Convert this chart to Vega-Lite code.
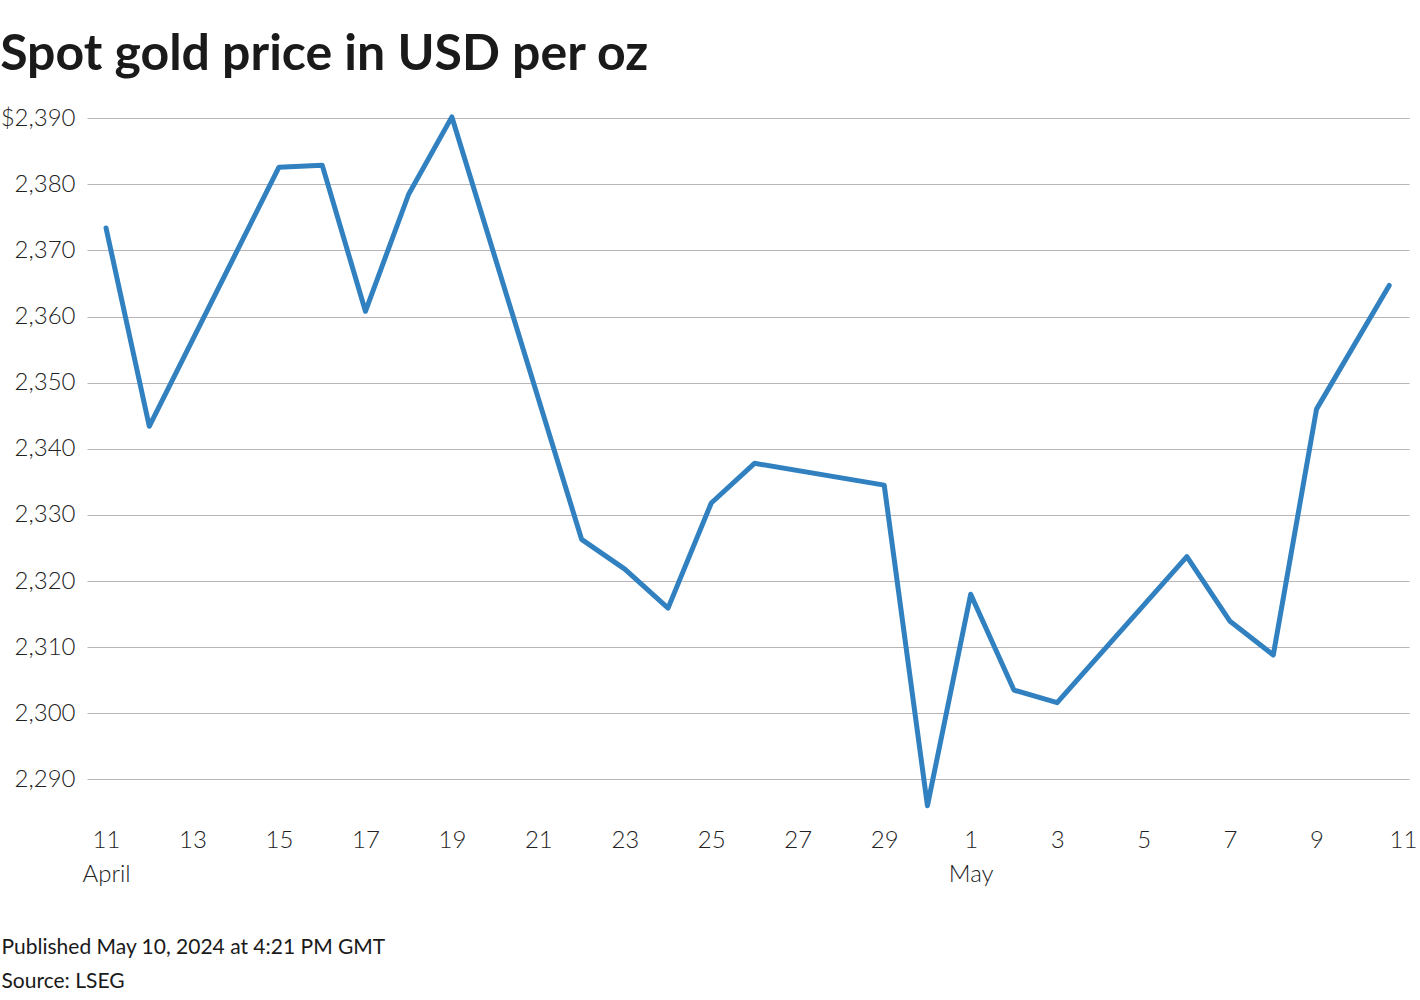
{
  "$schema": "https://vega.github.io/schema/vega-lite/v6.json",
  "width": 1322,
  "height": 714,
  "padding": {"left": 0, "top": 30, "right": 6, "bottom": 5},
  "background": "white",
  "title": {
    "text": "Spot gold price in USD per oz",
    "anchor": "start",
    "frame": "bounds",
    "font": "Lato",
    "fontSize": 50,
    "fontWeight": "bold",
    "color": "#1a1a1a",
    "offset": 25
  },
  "data": {
    "values": [
      {"date": "2024-04-11T00:00:00Z", "price": 2373.4},
      {"date": "2024-04-12T00:00:00Z", "price": 2343.4},
      {"date": "2024-04-15T00:00:00Z", "price": 2382.6},
      {"date": "2024-04-16T00:00:00Z", "price": 2382.9},
      {"date": "2024-04-17T00:00:00Z", "price": 2360.8},
      {"date": "2024-04-18T00:00:00Z", "price": 2378.5},
      {"date": "2024-04-19T00:00:00Z", "price": 2390.2},
      {"date": "2024-04-22T00:00:00Z", "price": 2326.3},
      {"date": "2024-04-23T00:00:00Z", "price": 2321.8},
      {"date": "2024-04-24T00:00:00Z", "price": 2315.9},
      {"date": "2024-04-25T00:00:00Z", "price": 2331.8},
      {"date": "2024-04-26T00:00:00Z", "price": 2337.8},
      {"date": "2024-04-29T00:00:00Z", "price": 2334.5},
      {"date": "2024-04-30T00:00:00Z", "price": 2286.0},
      {"date": "2024-05-01T00:00:00Z", "price": 2318.0},
      {"date": "2024-05-02T00:00:00Z", "price": 2303.5},
      {"date": "2024-05-03T00:00:00Z", "price": 2301.6},
      {"date": "2024-05-06T00:00:00Z", "price": 2323.7},
      {"date": "2024-05-07T00:00:00Z", "price": 2313.9},
      {"date": "2024-05-08T00:00:00Z", "price": 2308.8},
      {"date": "2024-05-09T00:00:00Z", "price": 2346.0},
      {"date": "2024-05-10T16:21:00Z", "price": 2364.7}
    ]
  },
  "mark": {
    "type": "line",
    "color": "#3181c1",
    "strokeWidth": 5,
    "strokeCap": "round",
    "strokeJoin": "round"
  },
  "encoding": {
    "x": {
      "field": "date",
      "type": "temporal",
      "scale": {
        "type": "utc",
        "domain": [
          {"year": 2024, "month": 4, "date": 10, "hours": 13, "minutes": 26, "utc": true},
          {"year": 2024, "month": 5, "date": 11, "hours": 3, "minutes": 20, "utc": true}
        ]
      },
      "axis": {
        "values": [
          {"year": 2024, "month": 4, "date": 11, "utc": true},
          {"year": 2024, "month": 4, "date": 13, "utc": true},
          {"year": 2024, "month": 4, "date": 15, "utc": true},
          {"year": 2024, "month": 4, "date": 17, "utc": true},
          {"year": 2024, "month": 4, "date": 19, "utc": true},
          {"year": 2024, "month": 4, "date": 21, "utc": true},
          {"year": 2024, "month": 4, "date": 23, "utc": true},
          {"year": 2024, "month": 4, "date": 25, "utc": true},
          {"year": 2024, "month": 4, "date": 27, "utc": true},
          {"year": 2024, "month": 4, "date": 29, "utc": true},
          {"year": 2024, "month": 5, "date": 1, "utc": true},
          {"year": 2024, "month": 5, "date": 3, "utc": true},
          {"year": 2024, "month": 5, "date": 5, "utc": true},
          {"year": 2024, "month": 5, "date": 7, "utc": true},
          {"year": 2024, "month": 5, "date": 9, "utc": true},
          {"year": 2024, "month": 5, "date": 11, "utc": true}
        ],
        "labelExpr": "utcdate(datum.value) == 1 || (utcdate(datum.value) == 11 && utcmonth(datum.value) == 3) ? [utcFormat(datum.value, '%-d'), utcFormat(datum.value, '%B')] : utcFormat(datum.value, '%-d')",
        "labelFont": "Lato",
        "labelFontWeight": 300,
        "labelFontSize": 24,
        "labelColor": "#222222",
        "labelLineHeight": 34,
        "labelPadding": 9,
        "labelFlush": false,
        "labelOverlap": false,
        "domain": false,
        "ticks": false,
        "grid": false,
        "title": ["Published May 10, 2024 at 4:21 PM GMT", "Source: LSEG"],
        "titleFont": "Lato",
        "titleFontSize": 21,
        "titleFontWeight": "normal",
        "titleColor": "#1a1a1a",
        "titleAnchor": "start",
        "titleAlign": "left",
        "titleBaseline": "top",
        "titleLineHeight": 34,
        "titleX": -86,
        "titleY": 117
      }
    },
    "y": {
      "field": "price",
      "type": "quantitative",
      "scale": {"domain": [2284, 2392], "nice": false, "zero": false},
      "axis": {
        "values": [2290, 2300, 2310, 2320, 2330, 2340, 2350, 2360, 2370, 2380, 2390],
        "labelExpr": "datum.value == 2390 ? '$' + format(datum.value, ',') : format(datum.value, ',')",
        "labelFont": "Lato",
        "labelFontWeight": 300,
        "labelFontSize": 24,
        "labelColor": "#222222",
        "labelPadding": 12,
        "domain": false,
        "ticks": false,
        "grid": true,
        "gridColor": "#b8b4b8",
        "gridWidth": 1.2,
        "title": null
      }
    }
  },
  "config": {
    "view": {"stroke": null}
  }
}
